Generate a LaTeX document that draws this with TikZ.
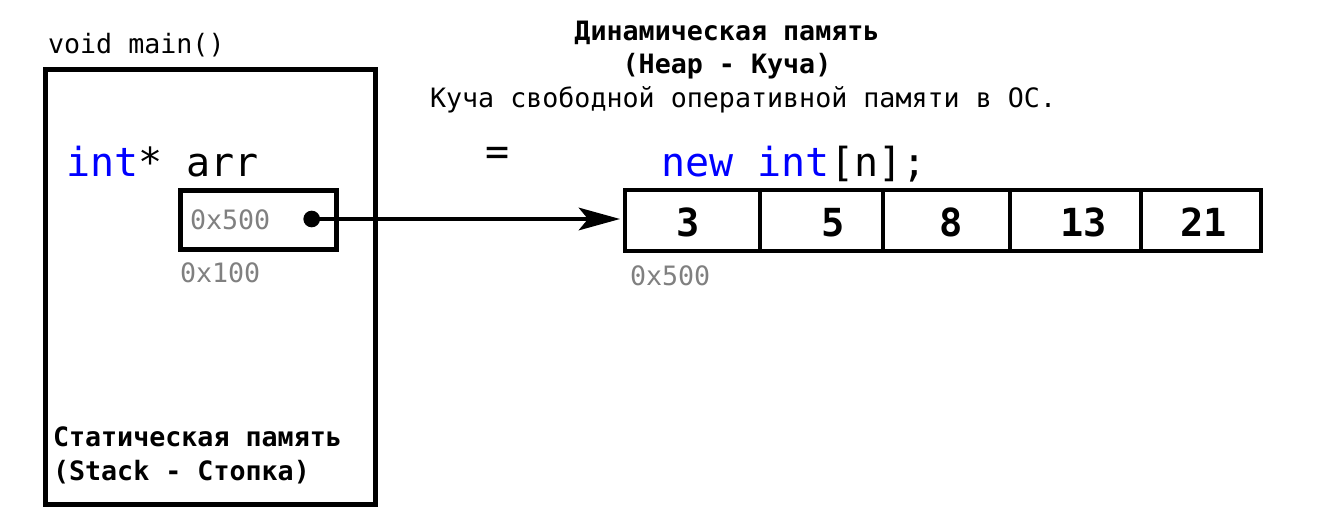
\documentclass[tikz,border=0pt]{standalone}
\usepackage{fontspec}
\newfontfamily\mono{DejaVu Sans Mono}
\usetikzlibrary{fit,arrows.meta}
\definecolor{kwblue}{RGB}{0,0,255}
\definecolor{addrgray}{RGB}{128,128,128}
\begin{document}
\begin{tikzpicture}[x=0.75pt,y=-0.75pt,
  txt/.style={inner sep=0pt, outer sep=0pt, anchor=base west, font=\mono\fontsize{20}{24}\selectfont},
  boldtxt/.style={txt, font=\mono\bfseries\fontsize{20}{24}\selectfont},
  bigtxt/.style={txt, font=\mono\fontsize{30}{36}\selectfont},
  addr/.style={txt, text=addrgray},
  num/.style={inner sep=0pt, outer sep=0pt, anchor=base, font=\mono\bfseries\fontsize{29}{34}\selectfont},
  frame/.style={draw, line width=3.75pt, inner sep=0pt},
  cell/.style={draw, line width=3pt, inner sep=0pt},
  dotnode/.style={circle, fill, inner sep=0pt, minimum size=12.5pt},
  ptrarrow/.style={line width=2.6pt, -{Stealth[length=31pt, width=17pt, inset=7pt]}, shorten >=2.25pt}
]
\useasboundingbox (0,0) rectangle (1322,531);

% stack frame
\node[txt] (fn) at (48,53.3) {void main()};
\node[frame, fit={(45.5,69.7) (375.5,504.3)}] (stack) {};
\node[bigtxt] (decl) at (66,177) {\textcolor{kwblue}{int}* arr};
\node[frame, fit={(180.2,190.2) (336.5,249.2)}] (ptr) {};
\node[addr] (pval) at (190,229.5) {0x500};
\node[addr] (paddr) at (180,282.5) {0x100};
\node[dotnode] (dot) at (311.7,219) {};
\node[boldtxt] (st1) at (53,446.7) {Статическая память};
\node[boldtxt] (st2) at (53,480) {(Stack - Стопка)};

% heap title
\node[boldtxt, anchor=base] (h1) at (727,41) {Динамическая память};
\node[boldtxt, anchor=base] (h2) at (727,73.3) {(Heap - Куча)};
\node[txt] (h3) at (430,107.3) {Куча свободной оперативной памяти в ОС.};

% assignment
\node[bigtxt, anchor=center] (eq) at (497.5,156.5) {=};
\node[bigtxt] (newexpr) at (661.5,177) {\textcolor{kwblue}{new int}[n];};

% array cells
\node[cell, fit={(625,190.3) (760,251)}] (c1) {};
\node[cell, fit={(760,190.3) (883,251)}] (c2) {};
\node[cell, fit={(883,190.3) (1009.5,251)}] (c3) {};
\node[cell, fit={(1009.5,190.3) (1140.5,251)}] (c4) {};
\node[cell, fit={(1140.5,190.3) (1260.5,251)}] (c5) {};
\node[num] (n1) at (688.3,236.5) {3};
\node[num] (n2) at (832.7,236.5) {5};
\node[num] (n3) at (951.5,236.5) {8};
\node[num] (n4) at (1083.7,236.5) {13};
\node[num] (n5) at (1203.9,236.5) {21};
\node[addr] (aaddr) at (630,286) {0x500};

% pointer arrow
\draw[ptrarrow] (dot.center) -- (dot.center -| c1.west);
\end{tikzpicture}
\end{document}
